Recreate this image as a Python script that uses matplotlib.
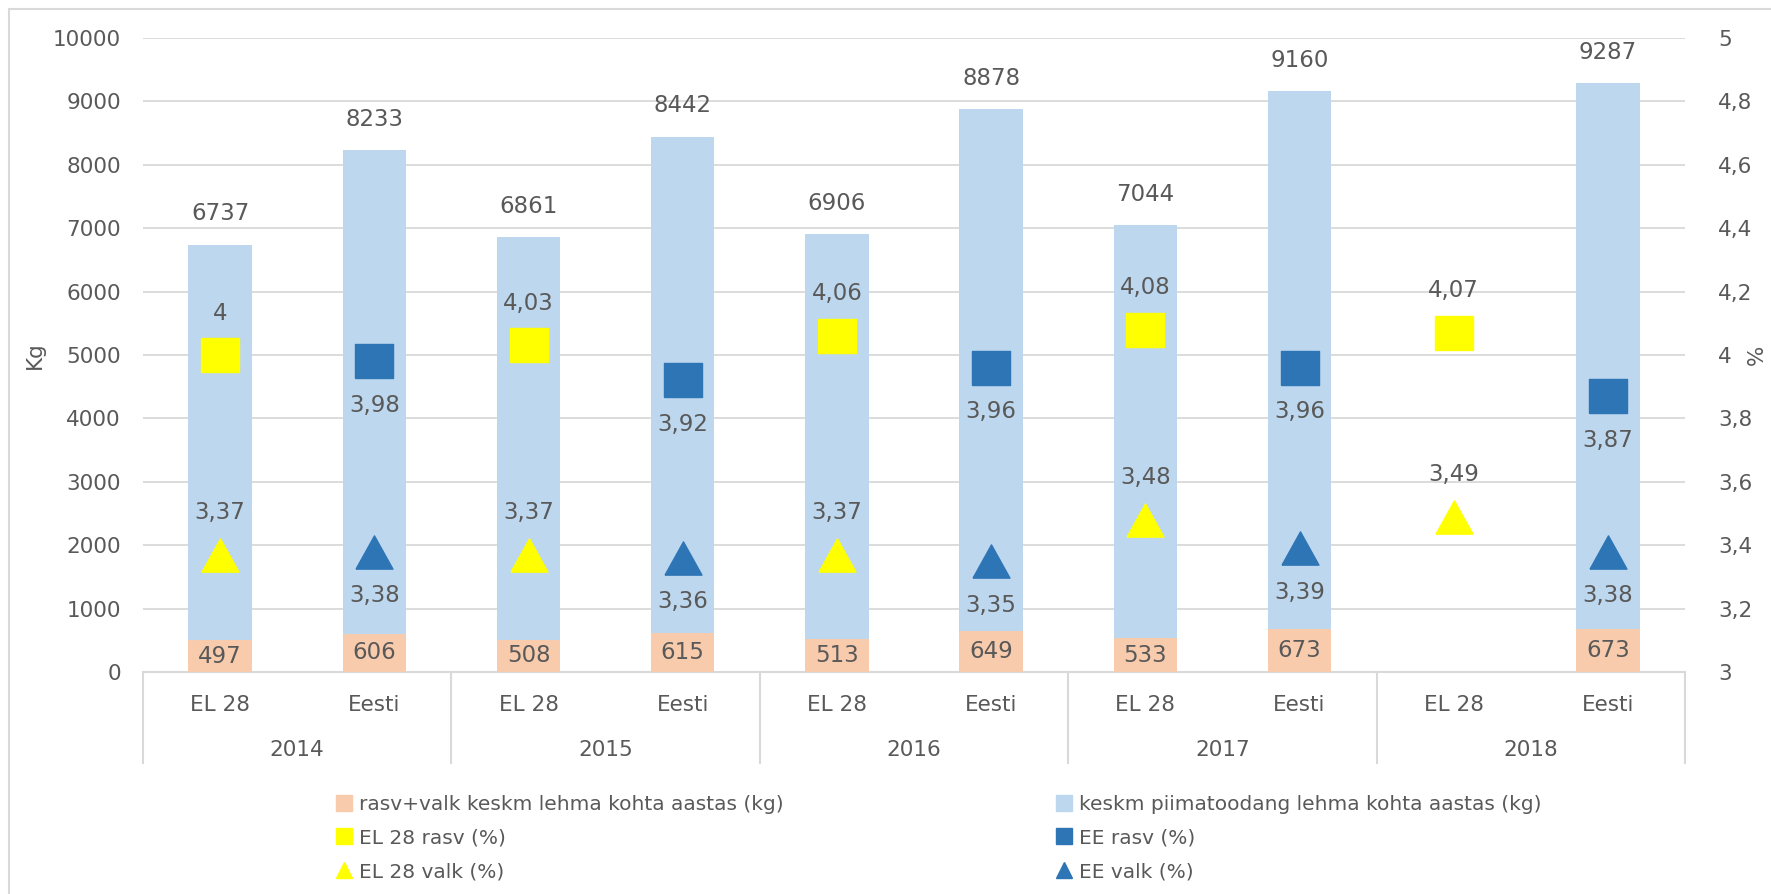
import matplotlib
matplotlib.use("Agg")
import matplotlib.pyplot as plt
import numpy as np
from matplotlib.lines import Line2D
from matplotlib.patches import Rectangle

plt.rcParams['font.family'] = ['DejaVu Sans']

years = ['2014', '2015', '2016', '2017', '2018']
groups = ['EL 28', 'Eesti']
milk = [6737, 8233, 6861, 8442, 6906, 8878, 7044, 9160, None, 9287]
fatprot = [497, 606, 508, 615, 513, 649, 533, 673, None, 673]
el_fat = [4.00, 4.03, 4.06, 4.08, 4.07]
ee_fat = [3.98, 3.92, 3.96, 3.96, 3.87]
el_prot = [3.37, 3.37, 3.37, 3.48, 3.49]
ee_prot = [3.38, 3.36, 3.35, 3.39, 3.38]
left_ticks = list(range(0, 10001, 1000))
right_ticks = [3.0, 3.2, 3.4, 3.6, 3.8, 4.0, 4.2, 4.4, 4.6, 4.8, 5.0]

C_BLUE_BAR = '#BDD7EE'
C_ORANGE = '#F8CBAD'
C_YELLOW = '#FFFF00'
C_DBLUE = '#2E75B6'
C_TEXT = '#595959'
C_GRID = '#D9D9D9'
FS = 15.5      # tick / category labels
DFS = 16.5     # data labels
LFS = 14.5     # legend

SQ = [(-1, -0.87), (1, -0.87), (1, 0.87), (-1, 0.87), (-1, -0.87)]
TRI = [(-1, -0.9), (1, -0.9), (0, 0.9), (-1, -0.9)]

W, H = 1771, 894
fig = plt.figure(figsize=(W / 100, H / 100), dpi=100)
fig.patches.append(Rectangle((9 / W, -0.05), 1.1, (H - 9) / H + 0.05, transform=fig.transFigure,
                             fill=False, edgecolor=C_GRID, lw=1.5))

ax = fig.add_axes([143 / W, (H - 672) / H, (1685 - 143) / W, (672 - 38) / H])
ax2 = ax.twinx()

n = len(years) * len(groups)
x = np.arange(n)
bw = 0.41

for i in range(n):
    if milk[i] is not None:
        ax.bar(x[i], milk[i], width=bw, color=C_BLUE_BAR, zorder=2)
        ax.annotate(f"{milk[i]}", (x[i], milk[i]), xytext=(0, 31), textcoords='offset pixels',
                    ha='center', va='center', fontsize=DFS, color=C_TEXT)
    if fatprot[i] is not None:
        ax.bar(x[i], fatprot[i], width=bw, color=C_ORANGE, zorder=3)
        ax.text(x[i], fatprot[i] / 2, f"{fatprot[i]}", ha='center', va='center',
                fontsize=DFS, color=C_TEXT, zorder=4)

ax.set_xlim(-0.5, n - 0.5)
ax.set_ylim(0, 10000)
ax.set_yticks(left_ticks)
ax.set_yticklabels([str(t) for t in left_ticks])
ax.yaxis.grid(True, color=C_GRID, lw=1.3, zorder=0)
ax.set_axisbelow(True)
ax.tick_params(axis='y', length=0, pad=16, labelsize=FS, labelcolor=C_TEXT)
ax.set_xticks([])
for s in ['top', 'left', 'right']:
    ax.spines[s].set_visible(False)
ax.spines['bottom'].set_color(C_GRID)
ax.spines['bottom'].set_linewidth(1.5)

# multi-level category axis
xt = ax.get_xaxis_transform()
for i in range(n):
    ax.text(x[i], -0.052, groups[i % 2], transform=xt, ha='center', va='center',
            fontsize=FS, color=C_TEXT)
for j, yv in enumerate(years):
    ax.text(2 * j + 0.5, -0.123, yv, transform=xt, ha='center', va='center',
            fontsize=FS, color=C_TEXT)
for b in np.arange(-0.5, n, 2):
    ax.plot([b, b], [0, -0.1435], transform=xt, color=C_GRID, lw=1.5, clip_on=False)

# right axis markers
el_x = x[0::2]
ee_x = x[1::2]
ax2.set_ylim(3, 5)
ax2.set_yticks(right_ticks)
ax2.set_yticklabels([f"{t:g}".replace('.', ',') for t in right_ticks])
ax2.tick_params(axis='y', length=0, pad=24, labelsize=FS, labelcolor=C_TEXT)
for s in ['top', 'left', 'right', 'bottom']:
    ax2.spines[s].set_visible(False)

# axis titles
fig.text(35 / W, 1 - 355 / H, 'Kg', rotation=90, ha='center', va='center',
         fontsize=FS, color=C_TEXT)
fig.text(1757 / W, 1 - 355 / H, '%', rotation=90, ha='center', va='center',
         fontsize=FS, color=C_TEXT)

ms_sq = 27.4
ms_tr = 26.6
ax2.plot(el_x, el_fat, marker=SQ, color=C_YELLOW, ms=ms_sq, ls='none', zorder=5)
ax2.plot(ee_x, ee_fat, marker=SQ, color=C_DBLUE, ms=ms_sq, ls='none', zorder=5)
ax2.plot(el_x, el_prot, marker=TRI, color=C_YELLOW, ms=ms_tr, ls='none', zorder=5)
ax2.plot(ee_x, ee_prot, marker=TRI, color=C_DBLUE, ms=ms_tr, ls='none', zorder=5)

def fmt(v):
    return f"{v:g}".replace('.', ',')

for xi, v in zip(el_x, el_fat):
    ax2.annotate(fmt(v), (xi, v), xytext=(0, 42), textcoords='offset pixels',
                 ha='center', va='center', fontsize=DFS, color=C_TEXT)
for xi, v in zip(ee_x, ee_fat):
    ax2.annotate(fmt(v), (xi, v), xytext=(0, -44), textcoords='offset pixels',
                 ha='center', va='center', fontsize=DFS, color=C_TEXT)
for xi, v in zip(el_x, el_prot):
    ax2.annotate(fmt(v), (xi, v), xytext=(0, 42), textcoords='offset pixels',
                 ha='center', va='center', fontsize=DFS, color=C_TEXT)
for xi, v in zip(ee_x, ee_prot):
    ax2.annotate(fmt(v), (xi, v), xytext=(0, -44), textcoords='offset pixels',
                 ha='center', va='center', fontsize=DFS, color=C_TEXT)

# legends
h_left = [Line2D([], [], marker='s', color=C_ORANGE, ls='none', ms=11),
          Line2D([], [], marker='s', color=C_YELLOW, ls='none', ms=11),
          Line2D([], [], marker='^', color=C_YELLOW, ls='none', ms=11)]
l_left = ['rasv+valk keskm lehma kohta aastas (kg)', 'EL 28 rasv (%)', 'EL 28 valk (%)']
h_right = [Line2D([], [], marker='s', color=C_BLUE_BAR, ls='none', ms=11),
           Line2D([], [], marker='s', color=C_DBLUE, ls='none', ms=11),
           Line2D([], [], marker='^', color=C_DBLUE, ls='none', ms=11)]
l_right = ['keskm piimatoodang lehma kohta aastas (kg)', 'EE rasv (%)', 'EE valk (%)']
common = dict(loc='upper left', frameon=False, fontsize=LFS, labelcolor=C_TEXT,
              handlelength=0.8, handletextpad=0.35, labelspacing=0.72, borderpad=0,
              borderaxespad=0)
leg1 = fig.legend(h_left, l_left, bbox_to_anchor=(336 / W, 1 - 795 / H), **common)
leg2 = fig.legend(h_right, l_right, bbox_to_anchor=(1056 / W, 1 - 795 / H), **common)

fig.savefig('out.png', dpi=100)
